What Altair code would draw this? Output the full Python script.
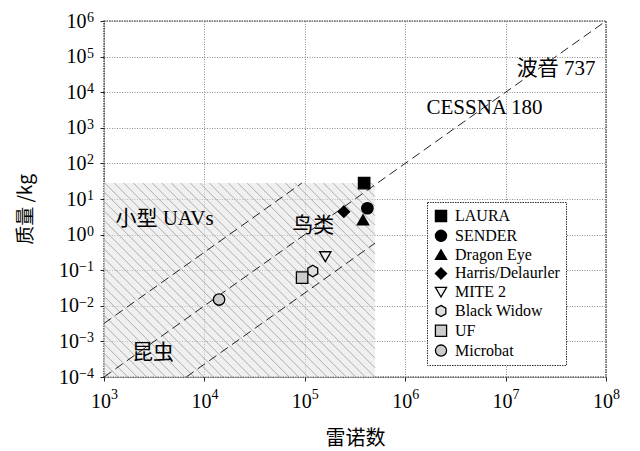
import altair as alt
import numpy as np
import pandas as pd

# ---- vehicles: Reynolds number vs. mass (kg) ----
names = ["LAURA", "SENDER", "Dragon Eye", "Harris/Delaurler",
         "MITE 2", "Black Widow", "UF", "Microbat"]
reynolds = [3.9e5, 4.2e5, 3.8e5, 2.45e5, 1.6e5, 1.2e5, 9.4e4, 1.4e4]
mass = [28, 5.5, 2.6, 4.4, 0.24, 0.095, 0.062, 0.015]

HEXAGON = "M0,-1L0.866,-0.5L0.866,0.5L0,1L-0.866,0.5L-0.866,-0.5Z"
fills = ["black", "black", "black", "black", "#f2f2f2", "#dedede", "#cccccc", "#cccccc"]
shapes = ["square", "circle", "triangle-up", "diamond", "triangle-down",
          HEXAGON, "square", "circle"]

# ---- dashed guide lines (mass ~ Re^2) ----
guide_id = ["a", "a", "b", "b", "c", "c"]
guide_re = [1e3, 9.35e4, 1e3, 1e8, 6.6e3, 5e5]
guide_mass = [3.2e-3, 28, 1e-4, 1e6, 1e-4, 0.574]

# ---- small-UAV / bird / insect region ----
region_re = [1e3, 5e5]
region_mass = [1e-4, 28]

# ---- annotations ----
note_text = ["波音 737", "CESSNA 180", "小型 UAVs", "鸟类", "昆虫"]
note_re = [1.29e7, 1.63e6, 1.3e3, 7.5e4, 1.9e3]
note_mass = [4.6e4, 3.7e3, 2.8, 1.8, 4.6e-4]

# ---- axes ----
x_ticks = [1e3, 1e4, 1e5, 1e6, 1e7, 1e8]
y_ticks = [1e-4, 1e-3, 1e-2, 1e-1, 1e0, 1e1, 1e2, 1e3, 1e4, 1e5, 1e6]

W, H = 502, 356
X_DOM = [1e3, 1e8]
Y_DOM = [1e-4, 1e6]

SERIF = "Liberation Serif, Noto Sans CJK SC"
CJK = "Noto Sans CJK SC"
TICK_FONT = "Liberation Serif"
EXP_EXPR = "replace('' + round(log(datum.v) / LN10), '-', '−')"


# hatch lines for the region, drawn at 45 degrees on screen
def to_px(re, m):
    lx = (np.log10(re) - np.log10(X_DOM[0])) / (np.log10(X_DOM[1]) - np.log10(X_DOM[0])) * W
    ly = (np.log10(m) - np.log10(Y_DOM[0])) / (np.log10(Y_DOM[1]) - np.log10(Y_DOM[0])) * H
    return lx, ly


def from_px(px, py):
    re = 10 ** (np.log10(X_DOM[0]) + px / W * (np.log10(X_DOM[1]) - np.log10(X_DOM[0])))
    m = 10 ** (np.log10(Y_DOM[0]) + py / H * (np.log10(Y_DOM[1]) - np.log10(Y_DOM[0])))
    return re, m


rx0, ry0 = to_px(region_re[0], region_mass[0])
rx1, ry1 = to_px(region_re[1], region_mass[1])
hatch_rows = []
step = 9.5
for c in np.arange(rx0 + ry0 + step / 2, rx1 + ry1, step):
    sx, sy = rx0, c - rx0          # start on the left edge ...
    if sy > ry1:
        sx, sy = c - ry1, ry1      # ... or on the top edge
    ex, ey = c - ry0, ry0          # end on the bottom edge ...
    if ex > rx1:
        ex, ey = rx1, c - rx1      # ... or on the right edge
    a = from_px(sx, sy)
    b = from_px(ex, ey)
    hatch_rows.append({"re": a[0], "m": a[1], "re2": b[0], "m2": b[1]})
hatch = pd.DataFrame(hatch_rows)

points = pd.DataFrame({"name": names, "re": reynolds, "m": mass})
guides = pd.DataFrame({"id": guide_id, "re": guide_re, "m": guide_mass})
region = pd.DataFrame({"re": [region_re[0]], "re2": [region_re[1]],
                       "m": [region_mass[0]], "m2": [region_mass[1]]})
notes = pd.DataFrame({"t": note_text, "re": note_re, "m": note_mass})
xt = pd.DataFrame({"v": x_ticks})
yt = pd.DataFrame({"v": y_ticks})

xs = alt.Scale(type="log", domain=X_DOM, nice=False)
ys = alt.Scale(type="log", domain=Y_DOM, nice=False)

x_axis = alt.Axis(values=x_ticks, labels=False, title="雷诺数",
                  titleFont=CJK, titleFontSize=20, titleFontWeight="normal",
                  titleX=251, titleY=61, titleAlign="center", titleBaseline="middle")
y_axis = alt.Axis(values=y_ticks, labels=False, title="质量 /kg",
                  titleFont=CJK, titleFontSize=19, titleFontWeight="normal",
                  titleX=-79, titleY=188, titleAlign="center", titleBaseline="middle",
                  titleAngle=-90)

region_layer = alt.Chart(region).mark_rect(fill="#e4e4e4", opacity=0.55).encode(
    x=alt.X("re:Q", scale=xs, axis=x_axis),
    x2="re2:Q",
    y=alt.Y("m:Q", scale=ys, axis=y_axis),
    y2="m2:Q",
)

hatch_layer = alt.Chart(hatch).mark_rule(color="#9c9c9c", strokeWidth=0.8).encode(
    x=alt.X("re:Q", scale=xs), x2="re2:Q",
    y=alt.Y("m:Q", scale=ys), y2="m2:Q",
)

guide_layer = alt.Chart(guides).mark_line(
    color="#222222", strokeWidth=1.0, strokeDash=[9, 5]
).encode(
    x=alt.X("re:Q", scale=xs),
    y=alt.Y("m:Q", scale=ys),
    detail="id:N",
)

legend = alt.Legend(title=None, orient="none", legendX=323, legendY=181)
point_layer = alt.Chart(points).mark_point(
    filled=True, size=130, strokeWidth=1.3, opacity=1
).encode(
    x=alt.X("re:Q", scale=xs),
    y=alt.Y("m:Q", scale=ys),
    fill=alt.Fill("name:N", scale=alt.Scale(domain=names, range=fills), sort=names,
                  legend=legend),
    shape=alt.Shape("name:N", scale=alt.Scale(domain=names, range=shapes), sort=names,
                    legend=legend),
    stroke=alt.Stroke("name:N", scale=alt.Scale(domain=names, range=["black"] * len(names)),
                      sort=names, legend=legend),
)

note_layer = alt.Chart(notes).mark_text(
    align="left", baseline="middle", font=SERIF, fontSize=21, color="black"
).encode(
    x=alt.X("re:Q", scale=xs),
    y=alt.Y("m:Q", scale=ys),
    text="t:N",
)

# tick labels: "10" with a raised exponent
x_base = alt.Chart(xt).mark_text(
    align="right", baseline="alphabetic", dx=7, font=TICK_FONT, fontSize=20, color="black"
).encode(x=alt.X("v:Q", scale=xs), y=alt.value(H + 31), text=alt.value("10"))
x_exp = alt.Chart(xt).transform_calculate(e=EXP_EXPR).mark_text(
    align="left", baseline="alphabetic", dx=7, font=TICK_FONT, fontSize=14, color="black"
).encode(x=alt.X("v:Q", scale=xs), y=alt.value(H + 22), text="e:N")

y_exp = alt.Chart(yt).transform_calculate(e=EXP_EXPR).mark_text(
    align="right", baseline="alphabetic", dy=1, font=TICK_FONT, fontSize=14, color="black"
).encode(x=alt.value(-10), y=alt.Y("v:Q", scale=ys), text="e:N")
y_base_pos = alt.Chart(yt).transform_filter("datum.v >= 1").mark_text(
    align="right", baseline="alphabetic", dx=-7.5, dy=6.5, font=TICK_FONT, fontSize=20,
    color="black"
).encode(x=alt.value(-10), y=alt.Y("v:Q", scale=ys), text=alt.value("10"))
y_base_neg = alt.Chart(yt).transform_filter("datum.v < 1").mark_text(
    align="right", baseline="alphabetic", dx=-15, dy=6.5, font=TICK_FONT, fontSize=20,
    color="black"
).encode(x=alt.value(-10), y=alt.Y("v:Q", scale=ys), text=alt.value("10"))

chart = alt.layer(
    region_layer, hatch_layer, guide_layer, point_layer, note_layer,
    x_base, x_exp, y_exp, y_base_pos, y_base_neg,
).properties(
    width=W, height=H,
    autosize=alt.AutoSizeParams(type="none"),
    padding={"left": 104, "top": 21, "right": 34, "bottom": 74},
).configure_view(
    stroke="#222222", strokeWidth=1.4, strokeDash=[1.5, 1]
).configure_axis(
    domain=False, grid=True, gridColor="#8a8a8a", gridDash=[1, 1.5], gridWidth=1,
    tickColor="#222222", tickSize=4, tickWidth=1, titleColor="black",
).configure_legend(
    strokeColor="#333333", strokeDash=[1.5, 1], fillColor="white", padding=6,
    rowPadding=1.8, labelFont="Liberation Serif", labelFontSize=16, labelColor="black",
    symbolSize=125, symbolStrokeWidth=1.3, labelOffset=6,
)

chart.save("out.html", embed_options={"renderer": "svg", "actions": False})
